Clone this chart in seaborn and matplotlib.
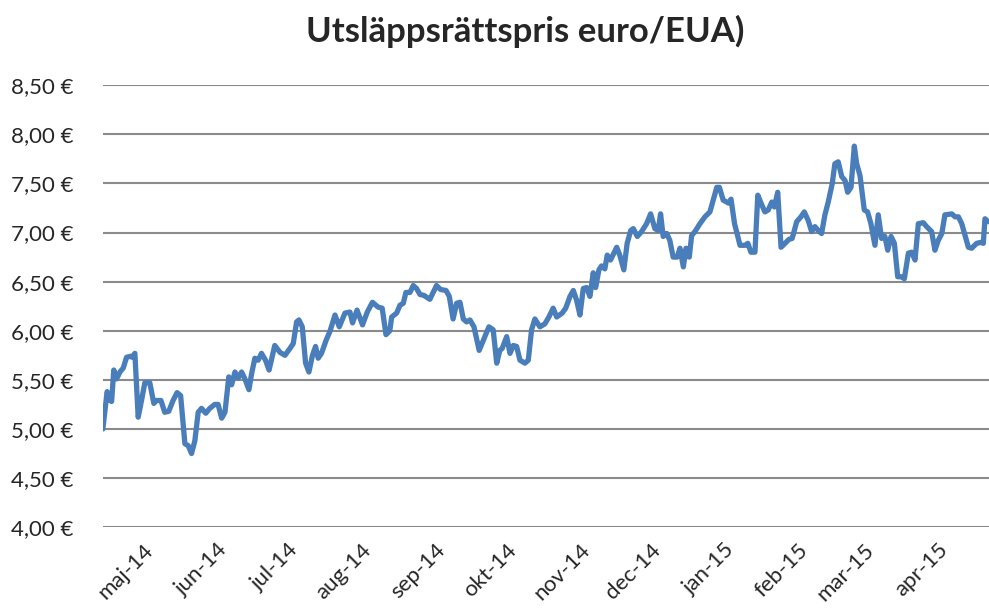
import pandas as pd
import seaborn as sns
import matplotlib.pyplot as plt
import matplotlib.transforms as mtransforms
from matplotlib.ticker import FuncFormatter

# dagar efter startdatum och pris (euro/EUA)
start_date = "2014-04-11"
days = [0, 1.8, 3.0, 3.7, 4.6, 5.8, 7.2, 8.6, 10.0, 11.7,
        12.4, 13.5, 14.9, 16.3, 17.7, 19.8, 21.5, 22.6, 24.5, 26.1,
        27.8, 29.6, 31.3, 32.8, 34.6, 36.0, 37.4, 38.8, 40.2, 41.6,
        43.4, 45.1, 47.2, 48.6, 50.1, 51.5, 53.1, 54.3, 55.7, 57.1,
        58.5, 59.9, 61.6, 62.7, 64.1, 65.5, 66.9, 68.6, 70.1, 72.5,
        74.7, 76.8, 78.9, 80.3, 81.7, 82.7, 84.1, 85.5, 86.9, 88.4,
        89.7, 90.8, 92.2, 94.1, 95.7, 97.9, 99.7, 102.1, 104.2, 105.3,
        107.2, 109.5, 111.5, 113.7, 116.1, 117.8, 119.4, 121.0, 121.8, 123.9,
        125.3, 126.7, 127.8, 129.5, 130.9, 132.3, 133.7, 135.4, 137.9, 140.7,
        142.4, 144.7, 146.1, 147.7, 149.2, 150.6, 152.0, 153.4, 154.8, 156.5,
        158.7, 161.1, 162.8, 164.6, 166.1, 167.4, 168.4, 170.3, 171.7, 173.1,
        174.5, 175.9, 178.0, 179.4, 180.8, 182.2, 184.3, 186.4, 188.1, 189.9,
        191.4, 193.7, 195.2, 197.0, 198.4, 199.8, 201.2, 202.6, 204.0, 205.4,
        206.8, 207.8, 209.2, 210.3, 211.7, 212.7, 214.1, 216.7, 218.0, 219.7,
        221.1, 222.6, 223.7, 225.4, 227.2, 229.3, 231.0, 232.8, 234.2, 235.2,
        236.3, 237.8, 239.1, 240.5, 242.2, 243.4, 244.8, 245.9, 247.3, 248.3,
        249.7, 251.8, 253.9, 256.0, 257.4, 258.9, 260.0, 261.6, 263.8, 264.9,
        266.4, 268.7, 270.8, 272.0, 273.3, 275.0, 276.2, 277.9, 279.2, 280.6,
        282.1, 283.2, 284.6, 286.0, 287.7, 289.3, 290.7, 292.6, 294.4, 295.8,
        297.5, 298.9, 300.3, 301.7, 303.1, 304.5, 305.9, 307.6, 308.7, 310.1,
        311.6, 313.0, 314.1, 315.5, 316.9, 317.9, 319.3, 321.1, 322.5, 323.9,
        325.6, 327.0, 328.4, 329.8, 331.0, 332.4, 333.8, 335.2, 336.6, 338.0,
        339.7, 341.1, 342.5, 343.9, 346.0, 347.4, 349.5, 350.9, 352.3, 353.8,
        355.1, 358.0, 359.4, 360.8, 362.2, 365.0, 366.4, 368.5, 370.3, 371.3,
        372.0, 373.4]
price = [5.00, 5.38, 5.29, 5.28, 5.60, 5.51, 5.58, 5.62, 5.73, 5.74,
         5.73, 5.77, 5.12, 5.29, 5.47, 5.47, 5.26, 5.29, 5.29, 5.17,
         5.18, 5.29, 5.37, 5.34, 4.85, 4.83, 4.75, 4.88, 5.17, 5.21,
         5.16, 5.21, 5.25, 5.25, 5.11, 5.17, 5.53, 5.45, 5.58, 5.52,
         5.58, 5.51, 5.40, 5.56, 5.72, 5.70, 5.77, 5.70, 5.60, 5.85,
         5.78, 5.75, 5.82, 5.87, 6.09, 6.11, 6.04, 5.67, 5.58, 5.75,
         5.84, 5.72, 5.77, 5.90, 5.99, 6.16, 6.04, 6.18, 6.19, 6.08,
         6.21, 6.06, 6.19, 6.29, 6.24, 6.23, 5.96, 6.00, 6.14, 6.18,
         6.26, 6.28, 6.39, 6.39, 6.46, 6.43, 6.37, 6.36, 6.32, 6.46,
         6.42, 6.41, 6.35, 6.12, 6.28, 6.29, 6.12, 6.09, 6.11, 6.04,
         5.80, 5.94, 6.04, 6.01, 5.67, 5.80, 5.82, 5.94, 5.77, 5.85,
         5.84, 5.70, 5.67, 5.70, 6.01, 6.12, 6.04, 6.07, 6.14, 6.23,
         6.14, 6.18, 6.23, 6.35, 6.41, 6.31, 6.16, 6.43, 6.44, 6.35,
         6.59, 6.44, 6.62, 6.66, 6.63, 6.77, 6.72, 6.85, 6.77, 6.62,
         6.89, 7.02, 7.04, 6.96, 7.01, 7.09, 7.19, 7.04, 7.02, 7.19,
         6.96, 6.99, 6.92, 6.75, 6.75, 6.84, 6.65, 6.84, 6.75, 6.97,
         7.01, 7.09, 7.16, 7.21, 7.33, 7.46, 7.46, 7.33, 7.30, 7.34,
         7.09, 6.87, 6.87, 6.89, 6.80, 6.80, 7.38, 7.28, 7.21, 7.23,
         7.31, 7.26, 7.41, 6.85, 6.89, 6.93, 6.94, 7.11, 7.16, 7.21,
         7.12, 7.01, 7.06, 7.02, 6.99, 7.18, 7.31, 7.50, 7.70, 7.72,
         7.57, 7.53, 7.41, 7.46, 7.88, 7.70, 7.58, 7.23, 7.21, 7.09,
         6.87, 7.18, 6.94, 6.96, 6.82, 6.96, 6.89, 6.55, 6.55, 6.53,
         6.79, 6.80, 6.72, 7.09, 7.10, 7.06, 7.01, 6.82, 6.92, 6.99,
         7.18, 7.19, 7.16, 7.16, 7.09, 6.85, 6.84, 6.89, 6.90, 6.89,
         7.14, 7.11]

month_starts = ["2014-05-01", "2014-06-01", "2014-07-01", "2014-08-01",
                "2014-09-01", "2014-10-01", "2014-11-01", "2014-12-01",
                "2015-01-01", "2015-02-01", "2015-03-01", "2015-04-01"]
month_labels = ["maj-14", "jun-14", "jul-14", "aug-14", "sep-14", "okt-14",
                "nov-14", "dec-14", "jan-15", "feb-15", "mar-15", "apr-15"]
y_ticks = [4.0, 4.5, 5.0, 5.5, 6.0, 6.5, 7.0, 7.5, 8.0, 8.5]

start = pd.Timestamp(start_date)
df = pd.DataFrame({"datum": start + pd.to_timedelta(days, unit="D"), "pris": price})

sns.set_style("white")
plt.rcParams['font.family'] = ['Lato', 'DejaVu Sans']

fig = plt.figure(figsize=(9.89, 6.13), dpi=100)
ax = fig.add_axes([0.104, 0.140, 0.896, 0.721])

ax.set_ylim(4.0, 8.5)
ax.set_yticks(y_ticks)
ax.yaxis.grid(True, color='#8a8a8a', linewidth=1.5)
ax.set_axisbelow(True)

sns.lineplot(data=df, x="datum", y="pris", ax=ax, color='#4a7ebb', linewidth=3.8)

ax.set_xlim(start, start + pd.Timedelta(days=373.7))
ax.set_xticks(pd.to_datetime(month_starts))
ax.set_xticklabels(month_labels, rotation=45, ha='right', rotation_mode='anchor', fontsize=16)
ax.yaxis.set_major_formatter(FuncFormatter(lambda v, p: f"{v:.2f} €".replace('.', ',')))
ax.tick_params(axis='y', labelsize=16, length=0, pad=21)
ax.tick_params(axis='x', length=0, pad=9)

# etiketterna lite åt vänster, som i originalet
shift = mtransforms.ScaledTranslation(-5 / 72, 0, fig.dpi_scale_trans)
for lab in ax.get_xticklabels():
    lab.set_transform(lab.get_transform() + shift)

for s in ax.spines.values():
    s.set_visible(False)

ax.set_xlabel("")
ax.set_ylabel("")
fig.suptitle("Utsläppsrättspris euro/EUA)", fontsize=25, fontweight='bold', x=0.531, y=0.975)

fig.savefig("out.png", dpi=100)
